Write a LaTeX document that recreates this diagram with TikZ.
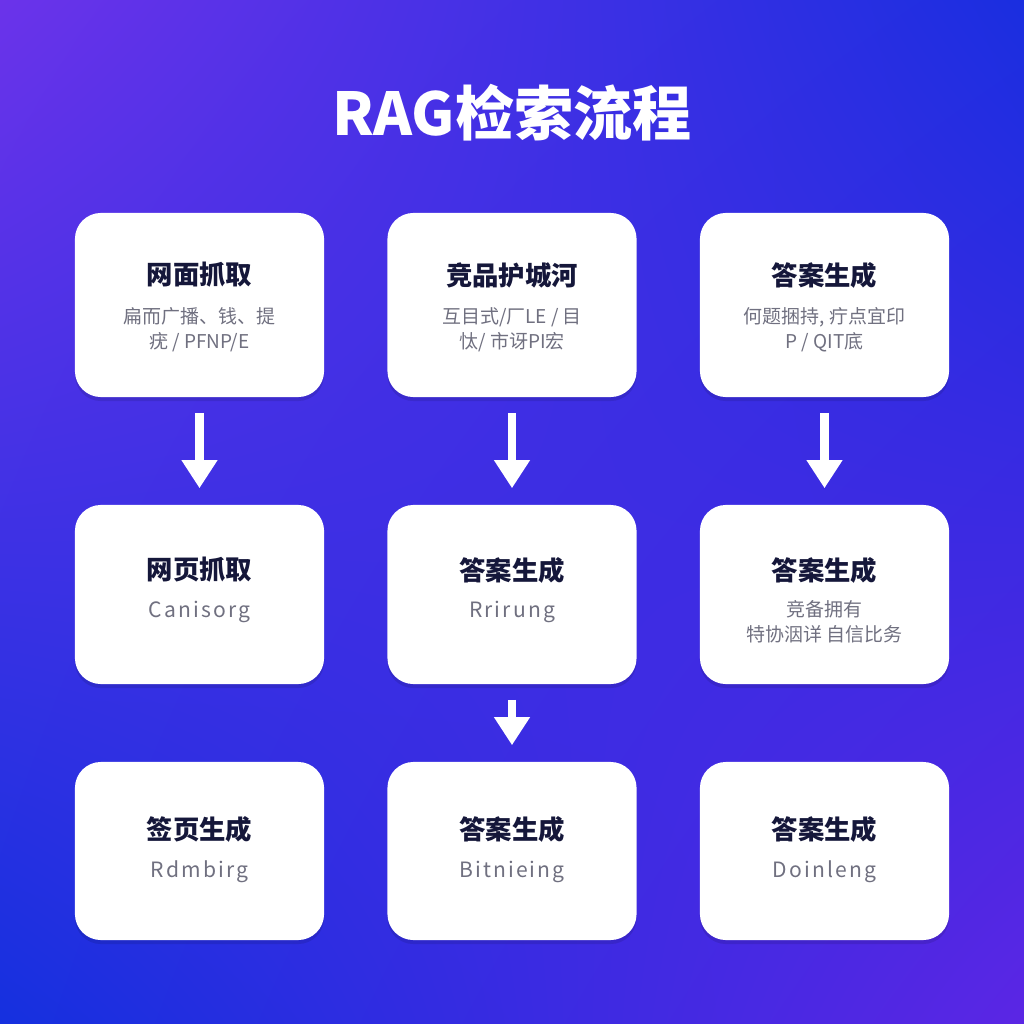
\documentclass[tikz,border=0pt]{standalone}
\usepackage{fontspec}
\setmainfont{Noto Sans CJK SC}
\newfontfamily\latinsub[LetterSpace=10]{Noto Sans CJK SC}
\usetikzlibrary{positioning}
\usetikzlibrary{arrows.meta}
\usetikzlibrary{shadows}
\usetikzlibrary{shadings}
\definecolor{BgPurple}{HTML}{6B33EA}
\definecolor{BgBlue}{HTML}{1A2EE0}
\definecolor{BgBlueLow}{HTML}{1530DF}
\definecolor{BgPurpleLow}{HTML}{5B26E4}
\definecolor{Ink}{HTML}{15173A}
\definecolor{Muted}{HTML}{707080}

\begin{document}
\begin{tikzpicture}[x=0.01cm, y=-0.01cm,
    card/.style={fill=white, rounded corners=0.26cm, minimum width=2.49cm, inner sep=0pt,
      drop shadow={shadow xshift=0cm, shadow yshift=-0.04cm, opacity=0.1, fill=black}},
    head/.style={text=Ink, font=\fontsize{7.5}{9}\selectfont\bfseries, inner sep=0pt},
    sub/.style={text=Muted, font=\fontsize{5.4}{7.1}\selectfont, align=center, inner sep=0pt},
    latin/.style={text=Muted, font=\latinsub\fontsize{6}{7}\selectfont, inner sep=0pt},
    flow/.style={white, line width=2.3pt, -{Triangle[width=0.34cm, length=0.28cm]},
      shorten <=0.15cm, shorten >=0.16cm}]
  \shade[upper left=BgPurple, upper right=BgBlue, lower left=BgBlueLow, lower right=BgPurpleLow]
    (0,0) rectangle (1024,1024);

  \node[text=white, font=\fontsize{16.8}{19}\selectfont\bfseries] (title) at (512,113) {RAG检索流程};

  % cards
  \foreach \nm/\x/\y/\h in {a1/199.5/305/1.84, a2/512/305/1.84, a3/824.5/305/1.84,
      b1/199.5/594.5/1.79, b2/512/594.5/1.79, b3/824.5/594.5/1.79,
      c1/199.5/851/1.78, c2/512/851/1.78, c3/824.5/851/1.78}
    \node[card, minimum height=\h cm] (\nm) at (\x,\y) {};

  \foreach \nm/\x/\y/\txt in {a1/199.5/275/网面抓取, a2/512/275/竞品护城河, a3/824.5/275/答案生成,
      b1/199.5/570/网页抓取, b2/512/570/答案生成, b3/824.5/570/答案生成,
      c1/199.5/829/签页生成, c2/512/829/答案生成, c3/824.5/829/答案生成}
    \node[head] (\nm-head) at (\x,\y) {\txt};

  \node[sub] (a1-sub) at (199.5,329.5) {扁而广播、钱、提\\疣 / PFNP/E};
  \node[sub] (a2-sub) at (512,329.5) {互目式/厂LE / 目\\忲/ 市讶PI宏};
  \node[sub] (a3-sub) at (824.5,329.5) {何题捆持, 疔点宜印\\P / QIT底};
  \node[latin] (b1-sub) at (199.5,612) {Canisorg};
  \node[latin] (b2-sub) at (512,612) {Rrirung};
  \node[sub] (b3-sub) at (824.5,621.5) {竞备拥有\\特协洇详 自信比务};
  \node[latin] (c1-sub) at (199.5,872) {Rdmbirg};
  \node[latin] (c2-sub) at (512,872) {Bitnieing};
  \node[latin] (c3-sub) at (824.5,872) {Doinleng};

  \foreach \s/\t in {a1/b1, a2/b2, a3/b3, b2/c2}
    \draw[flow] (\s) -- (\t);
\end{tikzpicture}
\end{document}
